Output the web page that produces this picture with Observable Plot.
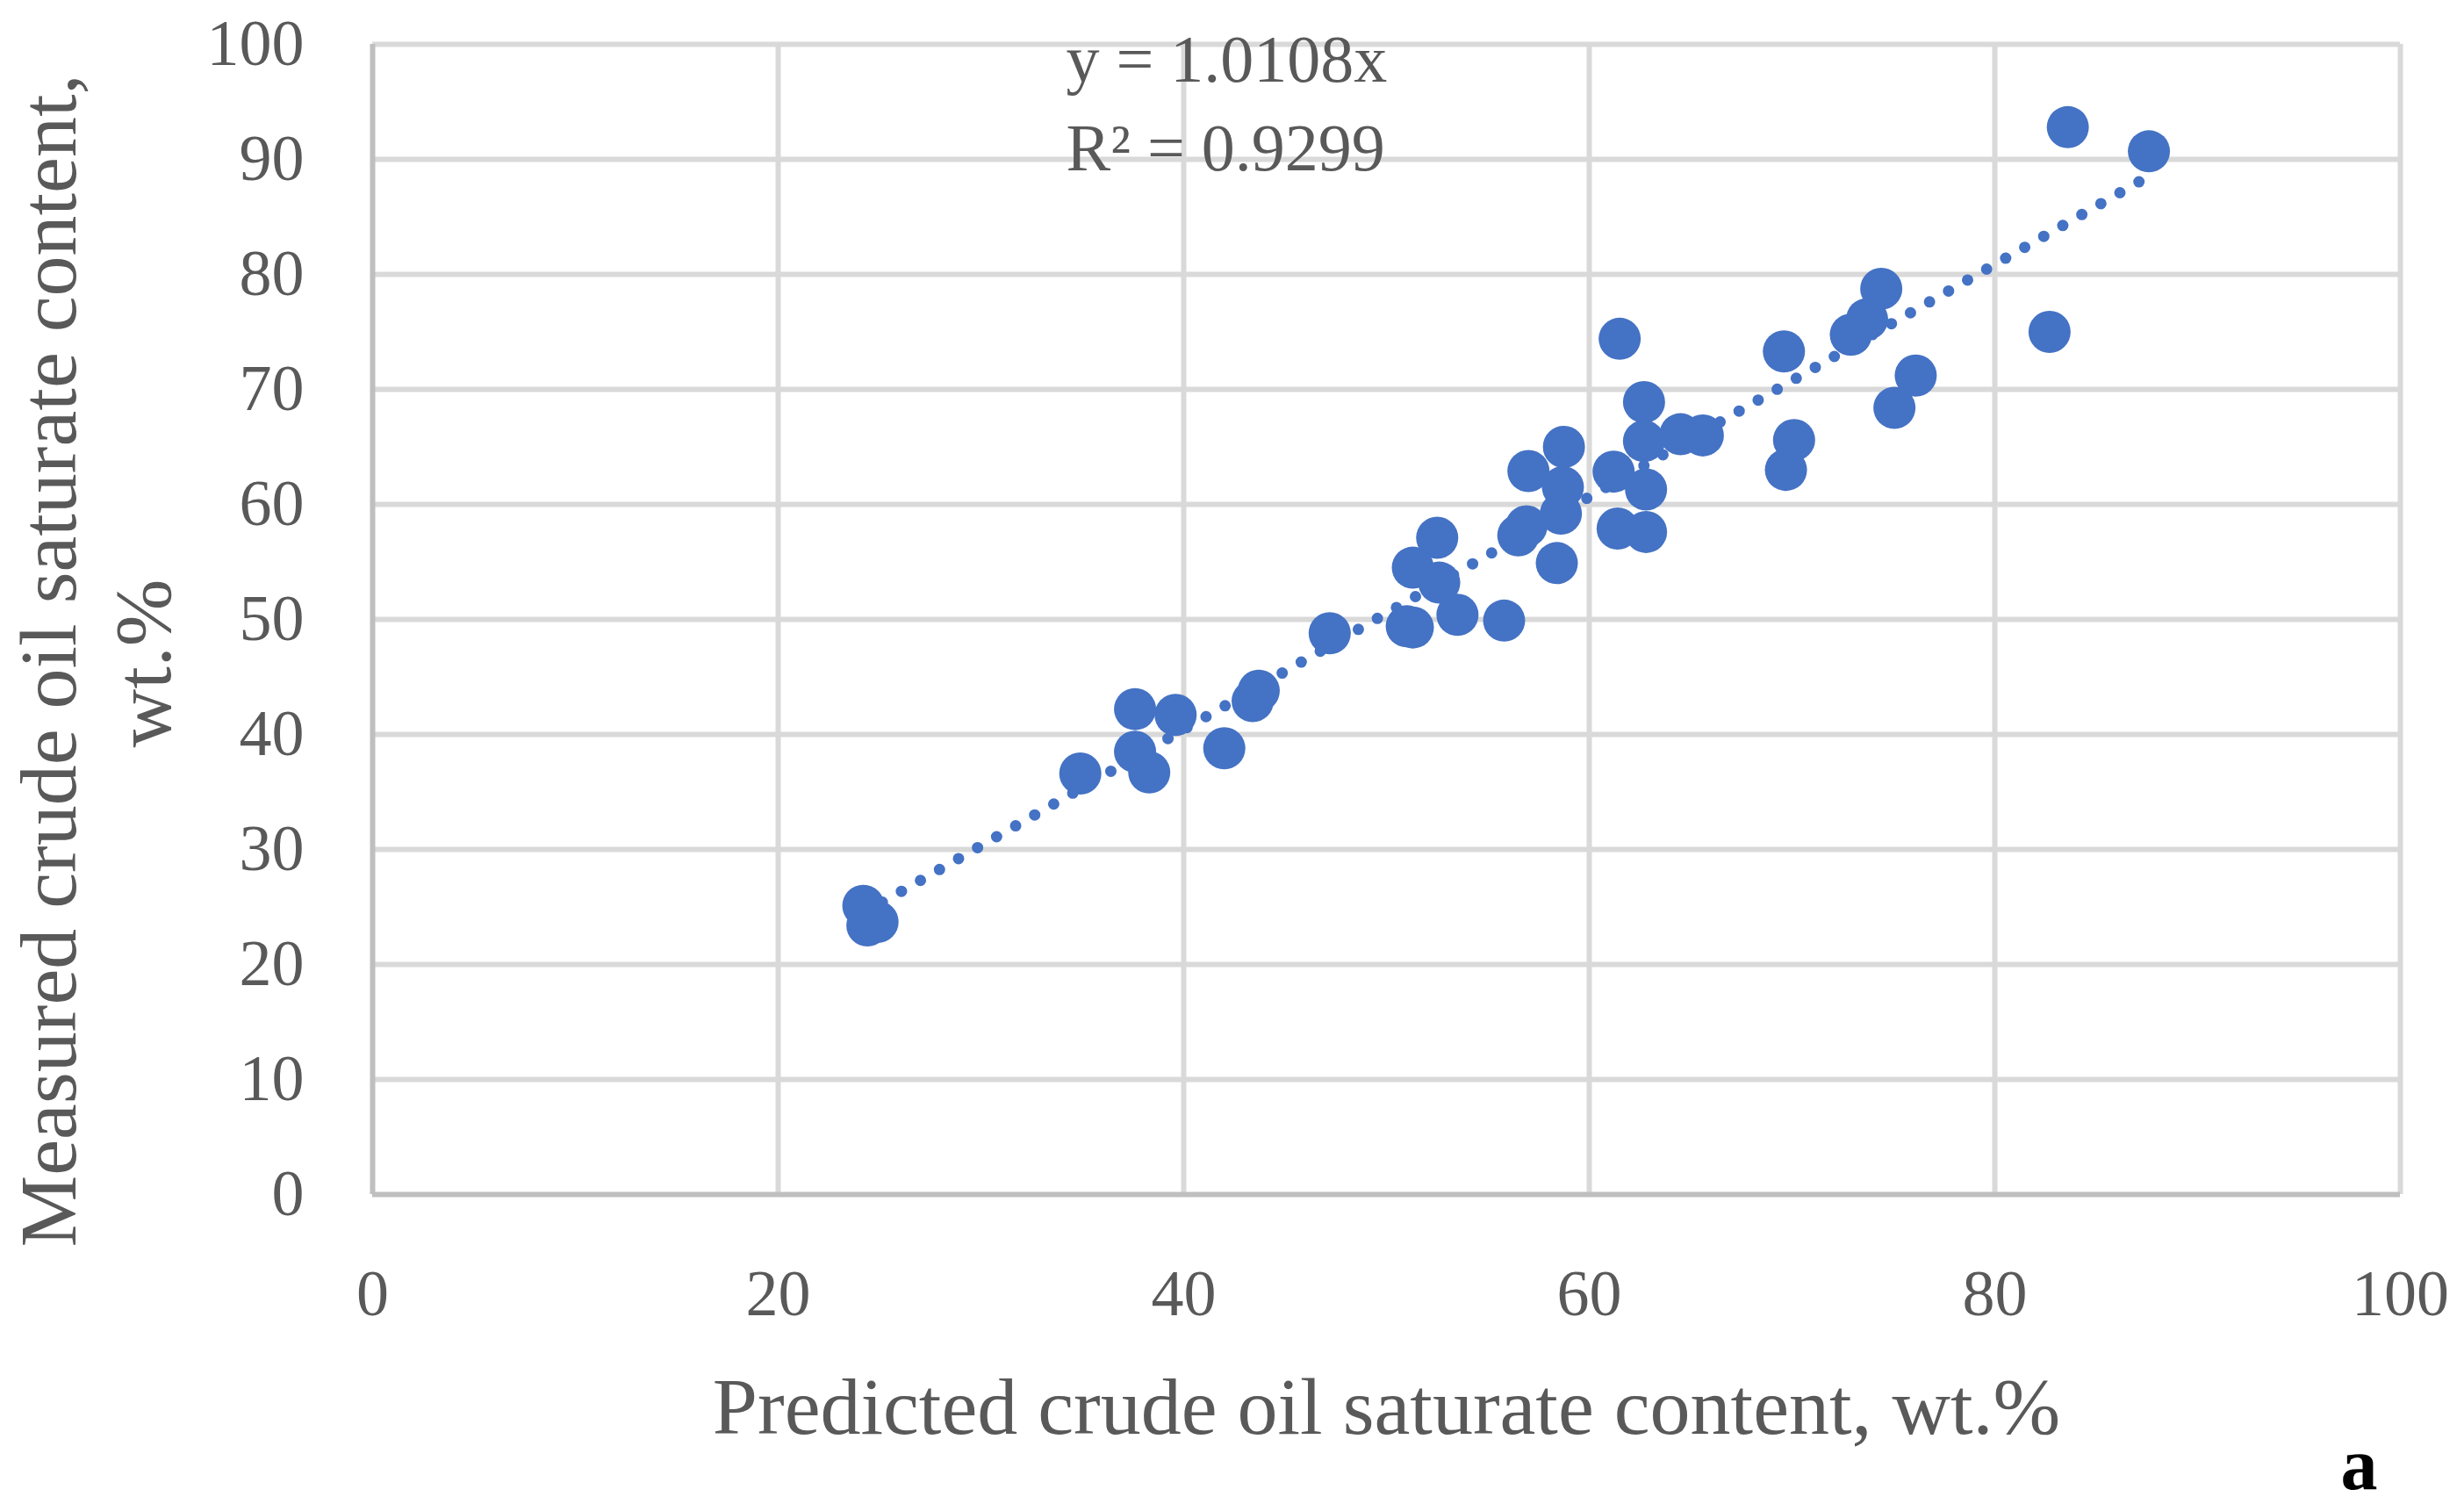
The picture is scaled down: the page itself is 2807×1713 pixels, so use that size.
<!DOCTYPE html>
<html>
<head>
<meta charset="utf-8">
<script src="https://cdn.jsdelivr.net/npm/d3@7"></script>
<script src="https://cdn.jsdelivr.net/npm/@observablehq/plot@0.6"></script>
<style>
  html, body { margin: 0; padding: 0; background: #ffffff; }
  #chart svg { display: block; }
</style>
</head>
<body>
<div id="chart"></div>
<script>
// ---- Data ----
const predicted = [24.2, 24.9, 24.4, 34.9, 37.6, 39.6, 37.6, 38.3, 42.0, 43.7, 43.4,
  47.2, 51.0, 51.3, 53.5, 55.8, 52.5, 51.3, 52.6, 56.5, 56.9, 58.4, 57.0, 58.75,
  58.7, 58.6, 61.2, 61.4, 62.8, 62.8, 62.7, 62.7, 61.5, 64.5, 65.6, 69.6, 70.1,
  69.7, 72.9, 73.7, 74.4, 76.1, 75.05, 82.7, 83.6, 87.6];
const measured = [25.1, 23.7, 23.4, 36.6, 42.2, 41.7, 38.5, 36.7, 38.8, 43.8, 42.9,
  48.8, 49.4, 49.3, 50.4, 49.9, 57.1, 54.5, 53.2, 57.3, 58.1, 54.9, 62.9, 65.0,
  61.5, 59.2, 62.85, 57.9, 57.6, 61.3, 65.5, 68.9, 74.4, 66.1, 66.0, 73.3, 65.6,
  63.0, 74.75, 76.1, 78.75, 71.2, 68.4, 75.0, 92.8, 90.7];
const xTicks = [0, 20, 40, 60, 80, 100];
const yTicks = [0, 10, 20, 30, 40, 50, 60, 70, 80, 90, 100];
const trendSlope = 1.0108;
const equationLabel = "y = 1.0108x";
const r2Label = "R² = 0.9299";
const xTitle = "Predicted crude oil saturate content, wt.%";
const yTitleLine1 = "Measured crude oil saturate content,";
const yTitleLine2 = "wt.%";
const panelLabel = "a";

// ---- Derived tables ----
const points = predicted.map((x, i) => ({x, y: measured[i]}));
const xmin = d3.min(predicted), xmax = d3.max(predicted);
const trend = [{x: xmin, y: trendSlope * xmin}, {x: xmax, y: trendSlope * xmax}];

const FONT = "'Liberation Serif', 'Times New Roman', serif";
const GRAY = "#595959";
const BLUE = "#4472C4";

const chart = Plot.plot({
  width: 2807,
  height: 1713,
  marginLeft: 424,
  marginRight: 73,
  marginTop: 50,
  marginBottom: 353,
  style: {fontFamily: FONT, color: GRAY, background: "#ffffff"},
  x: {domain: [0, 100], label: null},
  y: {domain: [0, 100], label: null},
  marks: [
    Plot.gridX(xTicks.filter(t => t > 0), {stroke: "#d9d9d9", strokeOpacity: 1, strokeWidth: 6}),
    Plot.gridY(yTicks.filter(t => t > 0), {stroke: "#d9d9d9", strokeOpacity: 1, strokeWidth: 6}),
    Plot.ruleX([0], {stroke: "#bfbfbf", strokeWidth: 6}),
    Plot.ruleY([0], {stroke: "#bfbfbf", strokeWidth: 6}),
    Plot.axisX(xTicks, {tickSize: 0, tickPadding: 85, fontSize: 74, color: GRAY, label: null}),
    Plot.axisY(yTicks, {tickSize: 0, tickPadding: 78, fontSize: 74, color: GRAY, label: null}),
    Plot.dot(points, {x: "x", y: "y", r: 24, fill: BLUE, stroke: "none"}),
    Plot.line(trend, {x: "x", y: "y", stroke: BLUE, strokeWidth: 13,
      strokeDasharray: "0,25", strokeLinecap: "round"}),
    Plot.text([equationLabel], {frameAnchor: "top-left", textAnchor: "start", lineAnchor: "bottom",
      dx: 790, dy: 42, fontSize: 76, fill: GRAY}),
    Plot.text([r2Label], {frameAnchor: "top-left", textAnchor: "start", lineAnchor: "bottom",
      dx: 790, dy: 143, fontSize: 76, fill: GRAY}),
    Plot.text([xTitle], {frameAnchor: "bottom", textAnchor: "middle", lineAnchor: "bottom",
      dy: 272, fontSize: 92, fill: GRAY}),
    Plot.text([yTitleLine1], {frameAnchor: "left", textAnchor: "middle", lineAnchor: "bottom",
      rotate: -90, dx: -339, dy: 47, fontSize: 92, fill: GRAY}),
    Plot.text([yTitleLine2], {frameAnchor: "left", textAnchor: "middle", lineAnchor: "bottom",
      rotate: -90, dx: -231, dy: 50, fontSize: 92, fill: GRAY}),
    Plot.text([panelLabel], {frameAnchor: "bottom-right", textAnchor: "middle", lineAnchor: "bottom",
      dx: -47, dy: 335, fontSize: 84, fontWeight: "bold", fill: "#000000"})
  ]
});
document.getElementById("chart").appendChild(chart);
</script>
</body>
</html>
